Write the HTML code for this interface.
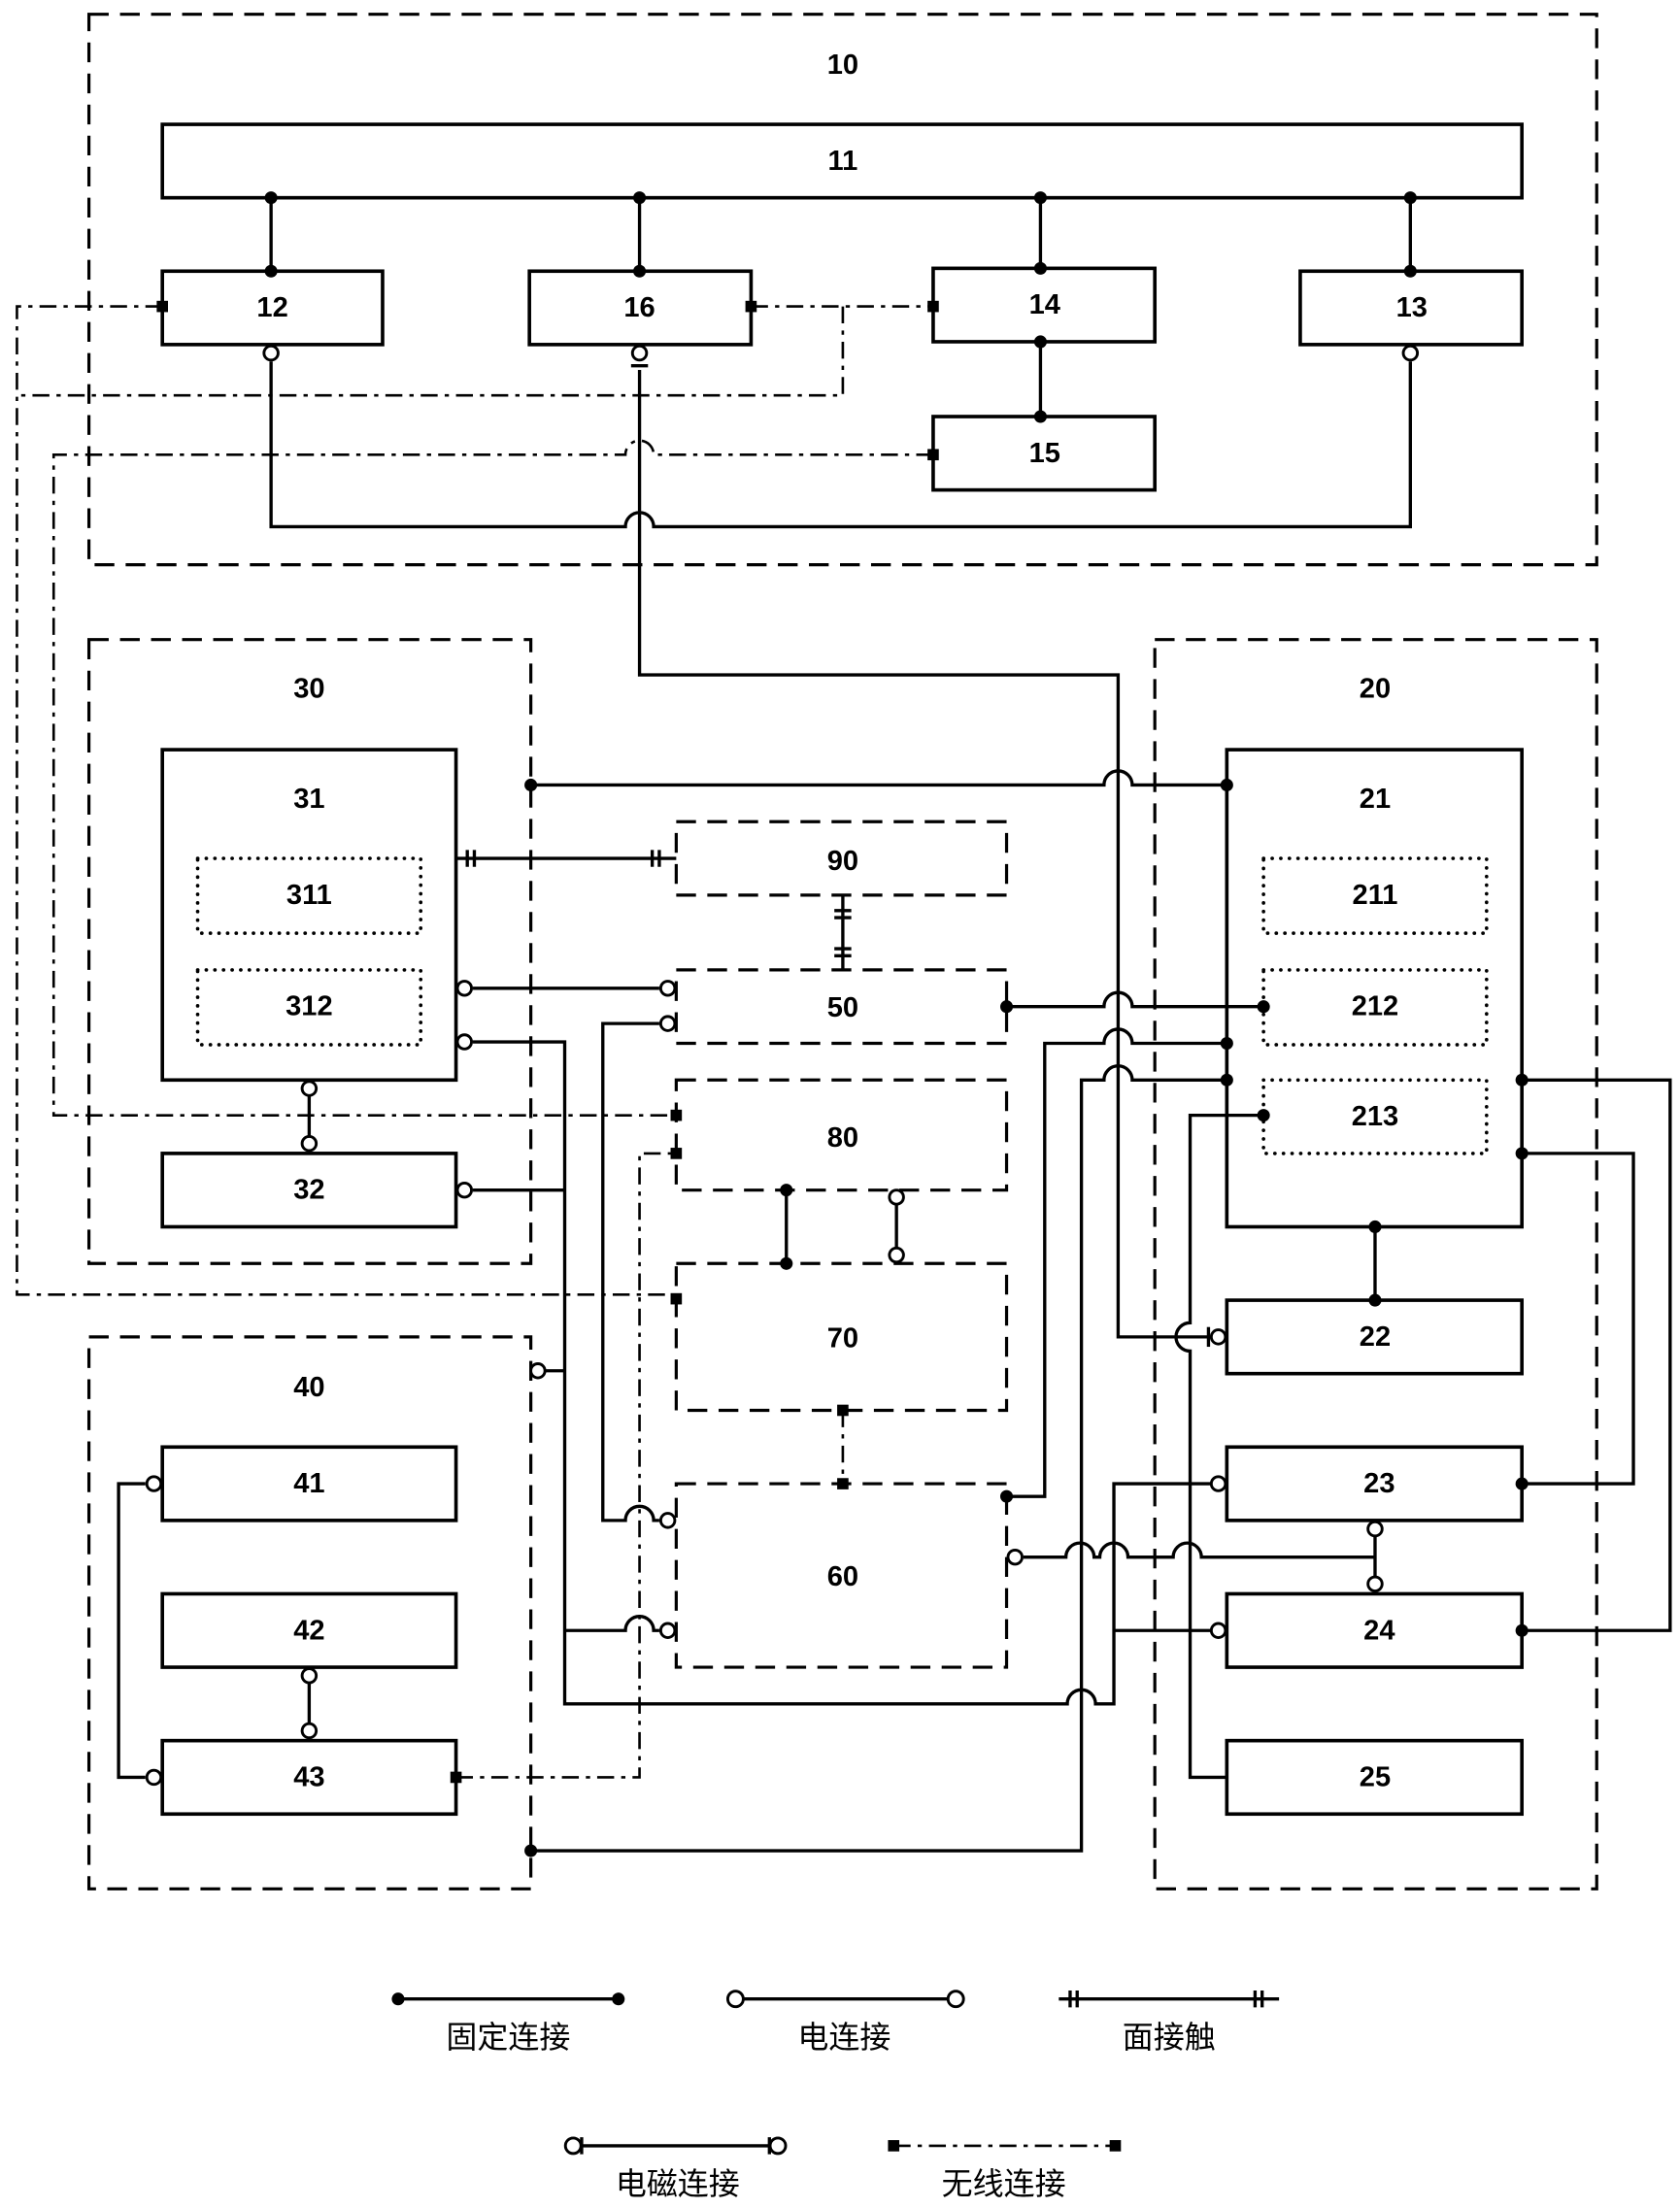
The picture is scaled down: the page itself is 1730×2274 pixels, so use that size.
<!DOCTYPE html>
<html><head><meta charset="utf-8"><style>
html,body{margin:0;padding:0;background:#fff}
svg{display:block}
text{font-family:"Liberation Sans","Noto Sans CJK SC",sans-serif;font-weight:bold;font-size:20px;text-anchor:middle;dominant-baseline:central;fill:#000}
.cj{font-weight:normal;font-size:22px}
</style></head><body>
<svg width="1730" height="2274" viewBox="0 0 1190 1564" xmlns="http://www.w3.org/2000/svg">
<g fill="none" stroke="#000" stroke-width="2.2" stroke-dasharray="14 8">
<rect x="63" y="10" width="1068" height="390"/>
<rect x="63" y="453" width="313" height="442"/>
<rect x="818" y="453" width="313" height="885"/>
<rect x="63" y="947" width="313" height="391"/>
<rect x="479" y="582" width="234" height="52"/>
<rect x="479" y="687" width="234" height="52"/>
<rect x="479" y="765" width="234" height="78"/>
<rect x="479" y="895" width="234" height="104"/>
<rect x="479" y="1051" width="234" height="130"/>
</g>
<g fill="none" stroke="#000" stroke-width="2.5">
<rect x="115" y="88" width="963" height="52"/>
<rect x="115" y="192" width="156" height="52"/>
<rect x="375" y="192" width="157" height="52"/>
<rect x="661" y="190" width="157" height="52"/>
<rect x="921" y="192" width="157" height="52"/>
<rect x="661" y="295" width="157" height="52"/>
<rect x="115" y="531" width="208" height="234"/>
<rect x="115" y="817" width="208" height="52"/>
<rect x="869" y="531" width="209" height="338"/>
<rect x="869" y="921" width="209" height="52"/>
<rect x="869" y="1025" width="209" height="52"/>
<rect x="869" y="1129" width="209" height="52"/>
<rect x="869" y="1233" width="209" height="52"/>
<rect x="115" y="1025" width="208" height="52"/>
<rect x="115" y="1129" width="208" height="52"/>
<rect x="115" y="1233" width="208" height="52"/>
</g>
<g fill="none" stroke="#000" stroke-width="2.5" stroke-dasharray="0.1 6" stroke-linecap="round">
<rect x="140" y="608" width="158" height="53"/>
<rect x="140" y="687" width="158" height="53"/>
<rect x="895" y="608" width="158" height="53"/>
<rect x="895" y="687" width="158" height="53"/>
<rect x="895" y="765" width="158" height="52"/>
</g>
<g fill="none" stroke="#000" stroke-width="2.3">
<path d="M192 140V192M453 140V192M737 140V192M999 140V192M737 242V295"/>
<path d="M192 256V373H443A10 10 0 0 1 463 373H999V256"/>
<path d="M453 262V478H792V947H856"/>
<path d="M856 940V954"/>
<path d="M447 259H459"/>
<path d="M895 790H843V937A10 10 0 0 0 843 957V1259H869"/>
<path d="M376 556H782A10 10 0 0 1 802 556H869"/>
<path d="M713 713H782A10 10 0 0 1 802 713H895"/>
<path d="M713 1060H740V739H782A10 10 0 0 1 802 739H869"/>
<path d="M376 1311H766V765H782A10 10 0 0 1 802 765H869"/>
<path d="M335 738H400V1207H756A10 10 0 0 1 776 1207H789V1051H858M789 1155H858"/>
<path d="M335 843H400M386 971H400"/>
<path d="M400 1155H443A10 10 0 0 1 463 1155H467"/>
<path d="M467 725H427V1077H443A10 10 0 0 1 463 1077H467"/>
<path d="M335 700H467"/>
<path d="M725 1103H755A10 10 0 0 1 775 1103H779A10 10 0 0 1 799 1103H831A10 10 0 0 1 851 1103H974M974 1088V1117"/>
<path d="M1078 765H1183V1155H1078M1078 817H1157V1051H1078"/>
<path d="M974 869V921M219 776V805M219 1192V1221M103 1051H84V1259H103M557 843V895M635 853V884"/>
<path d="M323 608H479M331 602V614M336 602V614M462 602V614M467 602V614"/>
<path d="M597 634V687M591 645H603M591 650H603M591 672H603M591 677H603"/>
</g>
<g fill="none" stroke="#000" stroke-width="1.8" stroke-dasharray="12 5 3 5">
<path d="M115 217H12V917H479"/>
<path d="M532 217H661"/>
<path d="M597 217V280H12"/>
<path d="M661 322H463A10 10 0 0 0 443 322H38V790H479"/>
<path d="M323 1259H453V817H479"/>
<path d="M597 999V1051"/>
</g>
<g fill="#000">
<circle cx="192" cy="140" r="4.5"/><circle cx="192" cy="192" r="4.5"/>
<circle cx="453" cy="140" r="4.5"/><circle cx="453" cy="192" r="4.5"/>
<circle cx="737" cy="140" r="4.5"/><circle cx="737" cy="190" r="4.5"/>
<circle cx="999" cy="140" r="4.5"/><circle cx="999" cy="192" r="4.5"/>
<circle cx="737" cy="242" r="4.5"/><circle cx="737" cy="295" r="4.5"/>
<circle cx="376" cy="556" r="4.5"/><circle cx="869" cy="556" r="4.5"/>
<circle cx="713" cy="713" r="4.5"/><circle cx="895" cy="713" r="4.5"/>
<circle cx="713" cy="1060" r="4.5"/><circle cx="869" cy="739" r="4.5"/>
<circle cx="869" cy="765" r="4.5"/><circle cx="376" cy="1311" r="4.5"/>
<circle cx="895" cy="790" r="4.5"/>
<circle cx="1078" cy="765" r="4.5"/><circle cx="1078" cy="817" r="4.5"/>
<circle cx="1078" cy="1051" r="4.5"/><circle cx="1078" cy="1155" r="4.5"/>
<circle cx="974" cy="869" r="4.5"/><circle cx="974" cy="921" r="4.5"/>
<circle cx="557" cy="843" r="4.5"/><circle cx="557" cy="895" r="4.5"/>
<rect x="111" y="213" width="8" height="8"/><rect x="528" y="213" width="8" height="8"/>
<rect x="657" y="213" width="8" height="8"/><rect x="657" y="318" width="8" height="8"/>
<rect x="475" y="786" width="8" height="8"/><rect x="475" y="813" width="8" height="8"/>
<rect x="475" y="916" width="8" height="8"/><rect x="319" y="1255" width="8" height="8"/>
<rect x="593" y="995" width="8" height="8"/><rect x="593" y="1047" width="8" height="8"/>
</g>
<g fill="#fff" stroke="#000" stroke-width="2">
<circle cx="192" cy="250" r="5"/><circle cx="999" cy="250" r="5"/><circle cx="453" cy="250" r="5"/>
<circle cx="863" cy="947" r="5"/>
<circle cx="329" cy="700" r="5"/><circle cx="473" cy="700" r="5"/>
<circle cx="329" cy="738" r="5"/><circle cx="329" cy="843" r="5"/><circle cx="381" cy="971" r="5"/>
<circle cx="473" cy="725" r="5"/><circle cx="473" cy="1077" r="5"/><circle cx="473" cy="1155" r="5"/>
<circle cx="863" cy="1051" r="5"/><circle cx="863" cy="1155" r="5"/>
<circle cx="719" cy="1103" r="5"/>
<circle cx="974" cy="1083" r="5"/><circle cx="974" cy="1122" r="5"/>
<circle cx="219" cy="771" r="5"/><circle cx="219" cy="810" r="5"/>
<circle cx="219" cy="1187" r="5"/><circle cx="219" cy="1226" r="5"/>
<circle cx="109" cy="1051" r="5"/><circle cx="109" cy="1259" r="5"/>
<circle cx="635" cy="848" r="5"/><circle cx="635" cy="889" r="5"/>
</g>
<!-- labels -->
<text x="597" y="46">10</text><text x="597" y="114">11</text>
<text x="193" y="218">12</text><text x="453" y="218">16</text>
<text x="740" y="216">14</text><text x="1000" y="218">13</text>
<text x="740" y="321">15</text>
<text x="219" y="488">30</text><text x="974" y="488">20</text><text x="219" y="983">40</text>
<text x="219" y="566">31</text><text x="219" y="634">311</text><text x="219" y="713">312</text>
<text x="219" y="843">32</text>
<text x="974" y="566">21</text><text x="974" y="634">211</text><text x="974" y="713">212</text><text x="974" y="791">213</text>
<text x="974" y="947">22</text><text x="977" y="1051">23</text><text x="977" y="1155">24</text><text x="974" y="1259">25</text>
<text x="219" y="1051">41</text><text x="219" y="1155">42</text><text x="219" y="1259">43</text>
<text x="597" y="610">90</text><text x="597" y="714">50</text><text x="597" y="806">80</text>
<text x="597" y="948">70</text><text x="597" y="1117">60</text>
<!-- legend -->
<g fill="none" stroke="#000" stroke-width="2.3">
<path d="M282 1416H438M527 1416H671M750 1416H906M758 1410V1422M763 1410V1422M889 1410V1422M894 1410V1422"/>
<path d="M412 1520H545M412 1514V1526M545 1514V1526"/>
</g>
<g fill="none" stroke="#000" stroke-width="1.8" stroke-dasharray="12 5 3 5"><path d="M633 1520H790"/></g>
<g fill="#000"><circle cx="282" cy="1416" r="4.5"/><circle cx="438" cy="1416" r="4.5"/>
<rect x="629" y="1516" width="8" height="8"/><rect x="786" y="1516" width="8" height="8"/></g>
<g fill="#fff" stroke="#000" stroke-width="2"><circle cx="521" cy="1416" r="5.5"/><circle cx="677" cy="1416" r="5.5"/>
<circle cx="406" cy="1520" r="5.5"/><circle cx="551" cy="1520" r="5.5"/></g>
<text class="cj" x="360" y="1443">固定连接</text>
<text class="cj" x="598" y="1443">电连接</text>
<text class="cj" x="828" y="1443">面接触</text>
<text class="cj" x="480" y="1547">电磁连接</text>
<text class="cj" x="711" y="1547">无线连接</text>
</svg>
</body></html>
